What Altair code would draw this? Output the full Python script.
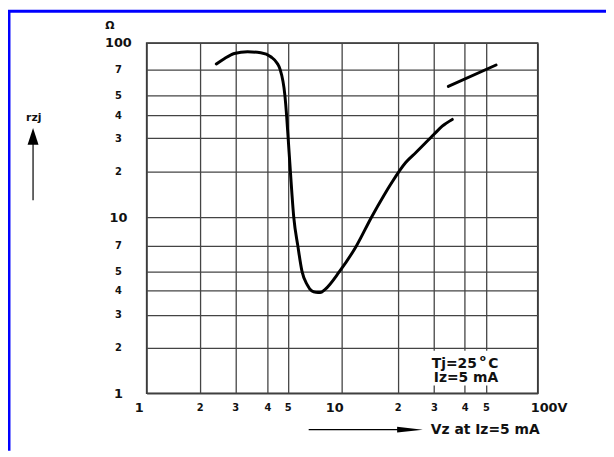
import altair as alt
import pandas as pd

FONT = "DejaVu Sans"

# Main curve: Vz (V) vs rzj (ohm)
vz_main = [2.42, 2.66, 2.97, 3.35, 3.77, 4.15, 4.46, 4.59, 4.85, 4.94,
           5.03, 5.18, 5.41, 5.70, 6.02, 6.42, 6.85, 7.21, 7.62, 8.12,
           9.77, 12.07, 14.47, 16.9, 18.44, 21.9, 24.5, 30.0, 32.4, 35.6]
rz_main = [75.2, 81.1, 86.7, 88.7, 87.5, 82.9, 75.8, 70.4, 49.8, 40.0,
           30.0, 19.9, 10.0, 7.0, 5.0, 4.30, 3.98, 3.92, 3.91, 4.06,
           4.98, 7.0, 10.0, 14.0, 16.7, 22.4, 25.2, 31.5, 34.9, 38.0]
# Upper short segment
vz_upper = [34.3, 57.3]
rz_upper = [56.1, 74.2]

# Axis grid values (log paper)
x_ticks = [1, 2, 3, 4, 5, 10, 20, 30, 40, 50, 100]
y_ticks = [1, 2, 3, 4, 5, 7, 10, 20, 30, 40, 50, 70, 100]
# positions of the printed grid lines on the paper (piecewise log)
x_grid_pos = [0, 53.5, 89.5, 122, 142.5, 196.5, 253.7, 290.3, 321.3, 342.7, 395]
y_grid_pos = [354, 308, 274.7, 250.3, 230.8, 204.8, 176.3, 130, 96.2, 73.2, 53, 26.7, 0]

main_df = pd.DataFrame({"vz": vz_main, "rz": rz_main})
upper_df = pd.DataFrame({"vz": vz_upper, "rz": rz_upper})
one = pd.DataFrame({"k": [0]})

xscale = alt.Scale(type="log", domain=x_ticks, range=x_grid_pos, nice=False)
yscale = alt.Scale(type="log", domain=y_ticks, range=y_grid_pos, nice=False)

decade_test = "datum.value == 1 || datum.value == 10 || datum.value == 100"

x_axis = alt.Axis(
    values=x_ticks, grid=True, ticks=False, domain=False,
    gridColor="#444444", gridWidth=1.3, gridOpacity=1,
    labelExpr="datum.value == 100 ? '100V' : (datum.value > 10 ? '' + (datum.value / 10) : '' + datum.value)",
    labelFont=FONT, labelFontWeight="bold", labelColor="#111111",
    labelFontSize={"condition": {"test": decade_test, "value": 13}, "value": 10},
    labelOffset={"condition": [
        {"test": "datum.value == 1", "value": -8},
        {"test": "datum.value == 10", "value": -7},
        {"test": "datum.value == 100", "value": 11}], "value": 0},
    labelBaseline="middle", labelAlign="center", labelPadding=14,
    labelOverlap=False, labelFlush=False, labelBound=False,
)
y_axis = alt.Axis(
    values=y_ticks, grid=True, ticks=False, domain=False,
    gridColor="#444444", gridWidth=1.3, gridOpacity=1,
    labelExpr="datum.value > 10 && datum.value < 100 ? '' + (datum.value / 10) : '' + datum.value",
    labelFont=FONT, labelFontWeight="bold", labelColor="#111111",
    labelFontSize={"condition": {"test": decade_test, "value": 13}, "value": 10},
    labelBaseline="middle", labelAlign="center", labelPadding=29,
    labelOverlap=False, labelFlush=False, labelBound=False,
)

main_line = alt.Chart(main_df).mark_line(
    color="black", strokeWidth=3, interpolate="monotone", strokeCap="round"
).encode(
    x=alt.X("vz:Q", scale=xscale, axis=x_axis, title=None),
    y=alt.Y("rz:Q", scale=yscale, axis=y_axis, title=None),
)
upper_line = alt.Chart(upper_df).mark_line(
    color="black", strokeWidth=3, strokeCap="round"
).encode(
    x=alt.X("vz:Q", scale=xscale, title=None),
    y=alt.Y("rz:Q", scale=yscale, title=None),
)

white_box = alt.Chart(one).mark_rect(color="white").encode(
    x=alt.value(284), x2=alt.value(364), y=alt.value(311), y2=alt.value(346))


def txt(s, x, y, size, align="left"):
    return alt.Chart(one).mark_text(
        text=s, align=align, baseline="middle", fontSize=size,
        fontWeight="bold", font=FONT, color="#111111"
    ).encode(x=alt.value(x), y=alt.value(y))


texts = [
    txt("Tj=25", 288, 324, 14),
    txt("o", 339.5, 318, 9, "center"),
    txt("C", 345, 324, 14),
    txt("Iz=5 mA", 290, 339, 14),
    txt("Vz at Iz=5 mA", 287, 390.7, 14),
    txt("\u03a9", -37, -17.5, 11, "center"),
    txt("rzj", -114, 75.5, 11, "center"),
]

y_arrow_line = alt.Chart(one).mark_rule(color="black", strokeWidth=1.2).encode(
    x=alt.value(-114.7), y=alt.value(100), y2=alt.value(159))
y_arrow_head = alt.Chart(one).mark_point(
    shape="M0,-1L0.65,1L-0.65,1Z", filled=True, size=289, color="black", opacity=1
).encode(x=alt.value(-114.7), y=alt.value(94.5))

x_arrow_line = alt.Chart(one).mark_rule(color="black", strokeWidth=1.2).encode(
    x=alt.value(163.7), x2=alt.value(256), y=alt.value(390.7))
x_arrow_head = alt.Chart(one).mark_point(
    shape="M1,0L-1,-0.22L-1,0.22Z", filled=True, size=676, color="black", opacity=1
).encode(x=alt.value(266), y=alt.value(390.7))

blue_top = alt.Chart(one).mark_rule(color="#0000ff", strokeWidth=3).encode(
    x=alt.value(-140), x2=alt.value(466), y=alt.value(-32))
blue_left = alt.Chart(one).mark_rule(color="#0000ff", strokeWidth=3).encode(
    x=alt.value(-139), y=alt.value(-33), y2=alt.value(412))

chart = alt.layer(
    main_line, upper_line, white_box, *texts,
    y_arrow_line, y_arrow_head, x_arrow_line, x_arrow_head,
    blue_top, blue_left,
).properties(
    width=395, height=354, autosize="none",
    padding={"left": 140, "top": 33, "right": 69, "bottom": 58},
    background="white",
).configure_view(stroke="#333333", strokeWidth=1.5)

chart.save("out.html", embed_options={"renderer": "svg", "actions": False})
